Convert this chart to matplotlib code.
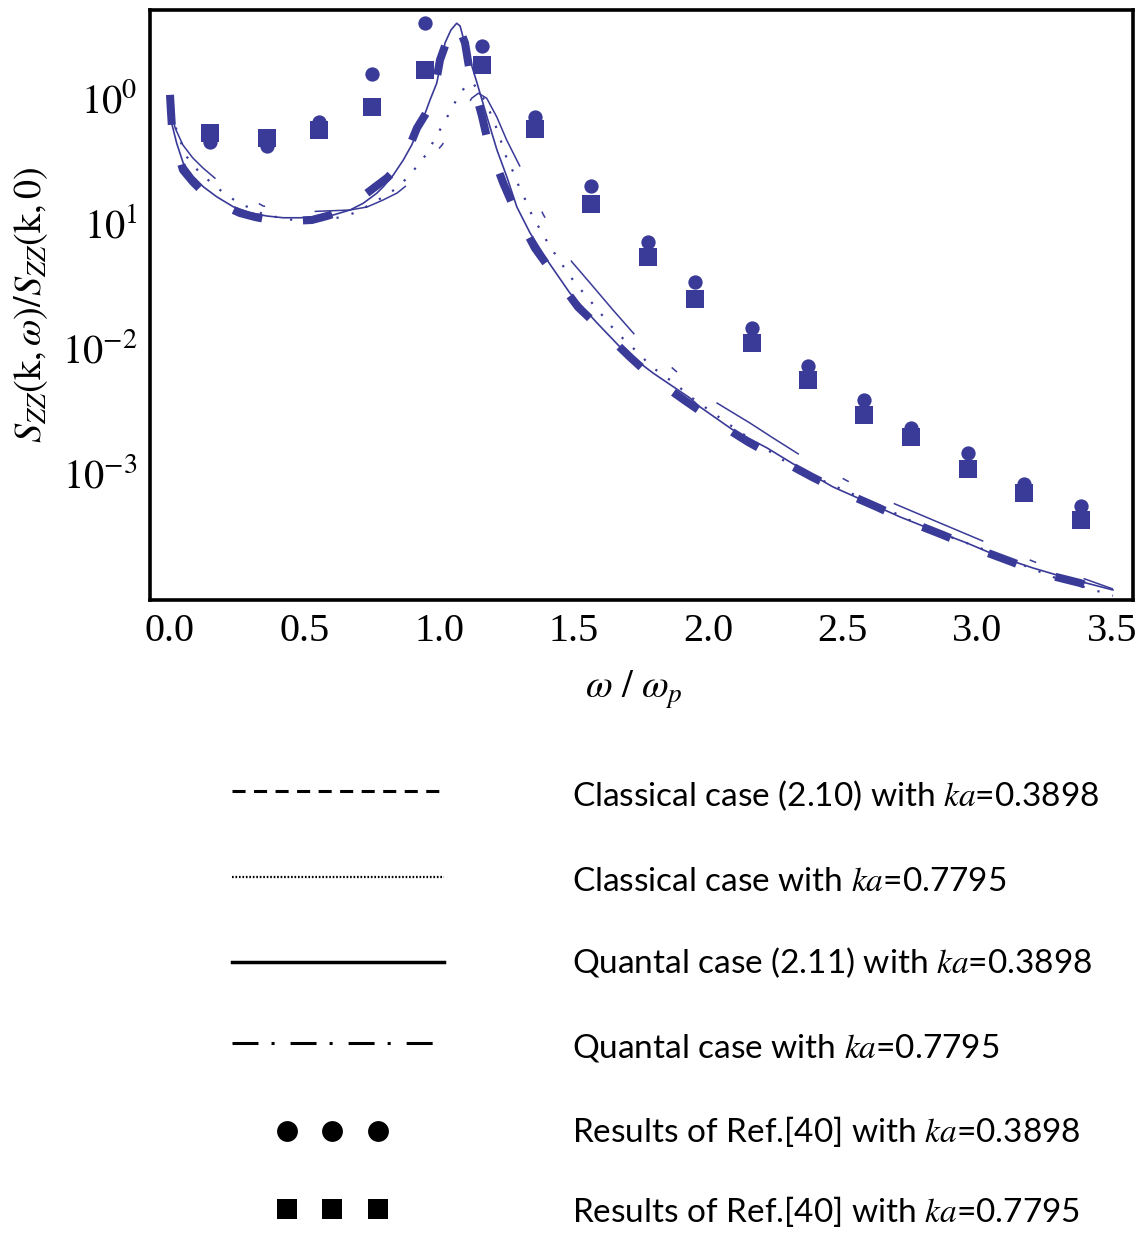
import matplotlib
matplotlib.use('Agg')
import matplotlib.pyplot as plt
from matplotlib.ticker import FixedLocator, FixedFormatter, NullLocator

plt.rcParams['mathtext.fontset'] = 'stix'
plt.rcParams['lines.scale_dashes'] = False

# ---------------- data ----------------
# Classical case (2.10), ka = 0.3898  (thick dashed)
cl_a_x = [0.000, 0.0037, 0.0074, 0.026, 0.0483, 0.0855, 0.1226, 0.1858, 0.2601, 0.3159,
          0.3716, 0.4496, 0.5277, 0.5834, 0.6392, 0.6986, 0.7618, 0.8064, 0.8473, 0.8845,
          0.9179, 0.9476, 0.9736, 0.9885, 1.0033, 1.0219, 1.0405, 1.0628, 1.0777, 1.0963,
          1.1148, 1.1583, 1.1828, 1.2386, 1.2820, 1.356, 1.423, 1.516, 1.598, 1.709,
          1.795, 1.921, 2.018, 2.148, 2.248, 2.386, 2.482, 2.627, 2.731, 2.873,
          2.980, 3.129, 3.233, 3.382, 3.504]
cl_a_y = [1.04, 0.759, 0.565, 0.377, 0.261, 0.2089, 0.174, 0.1393, 0.118, 0.1096,
          0.1038, 0.1019, 0.1038, 0.1117, 0.1225, 0.150, 0.1905, 0.2249, 0.2754, 0.377,
          0.565, 0.718, 0.912, 1.318, 1.977, 2.559, 3.311, 3.908, 3.436, 2.704,
          1.556, 0.718, 0.4266, 0.2042, 0.1247, 0.0619, 0.0391, 0.0209, 0.01419, 0.00832,
          0.00565, 0.00363, 0.00261, 0.00174, 0.00132, 0.000912, 0.000718, 0.000525, 0.000413,
          0.000313, 0.000251, 0.0001905, 0.0001556, 0.0001294, 0.0001038]

# Classical case, ka = 0.7795  (dotted)
cl_b_x = [0.000, 0.026, 0.063, 0.111, 0.186, 0.249, 0.297, 0.353, 0.457, 0.569,
          0.639, 0.695, 0.792, 0.844, 0.884, 0.922, 0.959, 0.985, 1.014, 1.044,
          1.070, 1.104, 1.126, 1.171, 1.197, 1.219, 1.237, 1.256, 1.282, 1.301,
          1.327, 1.349, 1.382, 1.412, 1.442, 1.475, 1.512, 1.550, 1.587, 1.624,
          1.661, 1.702, 1.747, 1.791, 1.832, 1.884, 1.925, 2.018, 2.118, 2.323,
          2.527, 2.575, 2.787, 2.850, 3.010, 3.058, 3.281, 3.337, 3.504]
cl_b_y = [1.0, 0.515, 0.331, 0.2466, 0.1803, 0.1445, 0.1294, 0.1138, 0.1038, 0.1038,
          0.1096, 0.1202, 0.1585, 0.1871, 0.229, 0.2858, 0.363, 0.470, 0.597, 0.787,
          1.0, 1.271, 1.294, 0.929, 0.692, 0.525, 0.398, 0.302, 0.2377, 0.1803,
          0.1419, 0.1076, 0.0832, 0.0631, 0.0515, 0.0398, 0.0313, 0.0251, 0.0201, 0.01614,
          0.01294, 0.01076, 0.00863, 0.00692, 0.00597, 0.00497, 0.00413, 0.002965, 0.00209, 0.001076,
          0.000679, 0.000619, 0.000377, 0.000331, 0.0002466, 0.0002249, 0.0001445, 0.0001318,
          0.0001023]

# Quantal case (2.11), ka = 0.3898  (thin solid)
qu_a_x = [0.000, 0.0063, 0.0249, 0.0494, 0.0866, 0.1237, 0.1735, 0.2352, 0.2973, 0.3593,
          0.4210, 0.4831, 0.5451, 0.6068, 0.6689, 0.7183, 0.7681, 0.7926, 0.8298, 0.8670,
          0.8982, 0.9168, 0.9413, 0.9662, 0.9911, 1.0219, 1.044, 1.0654, 1.078, 1.089,
          1.115, 1.141, 1.178, 1.215, 1.252, 1.289, 1.338, 1.401, 1.486, 1.587,
          1.683, 1.795, 1.932, 1.970, 2.092, 2.219, 2.341, 2.464, 2.590, 2.713,
          2.835, 2.962, 3.084, 3.207, 3.333, 3.504]
qu_a_y = [1.0, 0.616, 0.4266, 0.295, 0.2303, 0.1914, 0.1592, 0.1324, 0.1186, 0.1117,
          0.1081, 0.1081, 0.1102, 0.1138, 0.1247, 0.1413, 0.1698, 0.1914, 0.2377, 0.3133,
          0.413, 0.5129, 0.676, 0.946, 1.288, 2.704, 3.436, 3.89, 3.70, 3.02,
          1.977, 1.294, 0.692, 0.377, 0.229, 0.1318, 0.0817, 0.0497, 0.0270, 0.01556,
          0.00946, 0.00619, 0.00391, 0.00331, 0.002168, 0.001556, 0.001076, 0.000759, 0.000575,
          0.000437, 0.0003436, 0.000270, 0.000209, 0.0001706, 0.0001419, 0.0001138]

# Quantal case, ka = 0.7795  (long dash)
qu_b_x = [0.000, 0.004, 0.019, 0.048, 0.085, 0.123, 0.175, 0.346, 0.483, 0.669,
          0.732, 0.792, 0.844, 0.881, 1.011, 1.070, 1.121, 1.146, 1.177, 1.214,
          1.251, 1.301, 1.388, 1.493, 1.561, 1.646, 1.728, 1.877, 2.034, 2.155,
          2.241, 2.341, 2.514, 2.694, 2.861, 3.029, 3.214, 3.400, 3.504]
qu_b_y = [1.0, 0.787, 0.565, 0.413, 0.325, 0.270, 0.2168, 0.1343, 0.1202, 0.1247,
          0.1318, 0.150, 0.1706, 0.1977, 0.413, 0.643, 0.977, 1.072, 0.977, 0.695,
          0.453, 0.277, 0.1138, 0.0481, 0.0325, 0.0198, 0.01247, 0.00649, 0.003548, 0.002466,
          0.001871, 0.001368, 0.000855, 0.000555, 0.000391, 0.0002754, 0.0001905, 0.0001393,
          0.0001159]

# Results of Ref.[40]
ref_x = [0.149, 0.359, 0.554, 0.751, 0.948, 1.159, 1.356, 1.564, 1.776, 1.951,
         2.161, 2.371, 2.579, 2.754, 2.966, 3.174, 3.385]
ref_a_y = [0.434, 0.407, 0.631, 1.528, 3.91, 2.56, 0.692, 0.194, 0.0692, 0.0331,
           0.01419, 0.00705, 0.00377, 0.00224, 0.00142, 0.000802, 0.000535]
ref_b_y = [0.518, 0.470, 0.542, 0.8375, 1.644, 1.803, 0.558, 0.1393, 0.0525, 0.0242,
           0.01076, 0.005445, 0.002858, 0.001905, 0.001057, 0.000679, 0.000413]

x_ticks = [0.0, 0.5, 1.0, 1.5, 2.0, 2.5, 3.0, 3.5]
x_tick_labels = ['0.0', '0.5', '1.0', '1.5', '2.0', '2.5', '3.0', '3.5']
y_ticks = [1.0, 0.1, 0.01, 0.001]
y_tick_labels = [r'$10^{0}$', r'$10^{1}$', r'$10^{-2}$', r'$10^{-3}$']

legend_labels = [
    'Classical case (2.10) with $ka$=0.3898',
    'Classical case with $ka$=0.7795',
    'Quantal case (2.11) with $ka$=0.3898',
    'Quantal case with $ka$=0.7795',
    'Results of Ref.[40] with $ka$=0.3898',
    'Results of Ref.[40] with $ka$=0.7795',
]

# ---------------- figure ----------------
W, H = 1146, 1233
C = '#3a3a98'
fig = plt.figure(figsize=(W / 100, H / 100), dpi=100)

ax = fig.add_axes([150 / W, 1 - 600 / H, 983 / W, 590 / H])
ax.set_yscale('log')
ax.set_xlim(-0.0743, 3.5786)
ax.set_ylim(9.46e-5, 4.966)

ax.plot(cl_a_x, cl_a_y, color=C, lw=5.8, dashes=(21.6, 29.5), dash_capstyle='butt', zorder=3)
ax.plot(qu_a_x, qu_a_y, color=C, lw=1.2, zorder=4)
ax.plot(cl_b_x, cl_b_y, color=C, lw=1.6, dashes=(1.6, 9.6), dash_capstyle='butt', zorder=4)
ax.plot(qu_b_x, qu_b_y, color=C, lw=1.1, dashes=(70, 36, 5, 36), dash_capstyle='butt', zorder=4)
ax.plot(ref_x, ref_a_y, 'o', color=C, ms=10.3, mew=0, zorder=5)
ax.plot(ref_x, ref_b_y, 's', color=C, ms=12.5, mew=0, zorder=5)

for s in ax.spines.values():
    s.set_linewidth(2.6)
    s.set_color('black')

ax.xaxis.set_major_locator(FixedLocator(x_ticks))
ax.xaxis.set_major_formatter(FixedFormatter(x_tick_labels))
ax.yaxis.set_major_locator(FixedLocator(y_ticks))
ax.yaxis.set_major_formatter(FixedFormatter(y_tick_labels))
ax.yaxis.set_minor_locator(NullLocator())
ax.xaxis.set_minor_locator(NullLocator())
ax.tick_params(axis='both', length=0)
ax.tick_params(axis='x', pad=9)
ax.tick_params(axis='y', pad=9)
for lab in ax.get_xticklabels():
    lab.set_fontfamily('Liberation Serif')
    lab.set_fontsize(29)
for lab in ax.get_yticklabels():
    lab.set_fontsize(29)

fig.text(31 / W, 1 - 305 / H, r'$S_{ZZ}(\mathrm{k},\omega)/S_{ZZ}(\mathrm{k},0)$',
         rotation=90, ha='center', va='center', fontsize=27.5)
fig.text(634 / W, 1 - 690 / H, r'$\omega\ /\ \omega_p$', ha='center', va='center', fontsize=28)

# ---------------- legend below ----------------
lax = fig.add_axes([0, 0, 1, 1], zorder=-1)
lax.set_xlim(0, W)
lax.set_ylim(H, 0)
lax.axis('off')

x0, x1 = 232, 444
lax.plot([x0, x1], [791, 791], color='black', lw=2.2, dashes=(9.4, 6.1), dash_capstyle='butt')
lax.plot([x0, x1], [877, 877], color='black', lw=1.6, dashes=(1.2, 1.3), dash_capstyle='butt')
lax.plot([x0, x1], [962, 962], color='black', lw=2.5)
lax.plot([x0, x1], [1043, 1043], color='black', lw=2.2, dashes=(18.7, 9.4, 2.2, 11.5), dash_capstyle='butt')
lax.plot([287, 332, 378], [1130.5, 1130.5, 1130.5], 'o', color='black', ms=15, mew=0)
lax.plot([287, 332, 378], [1209, 1209, 1209], 's', color='black', ms=15, mew=0)

baselines = [806, 891, 973, 1057, 1142, 1222]
for lbl, yb in zip(legend_labels, baselines):
    lax.text(572, yb, lbl, ha='left', va='baseline', fontsize=24,
             family=['Lato', 'DejaVu Sans'], color='black')

fig.savefig('out.png', dpi=100)
